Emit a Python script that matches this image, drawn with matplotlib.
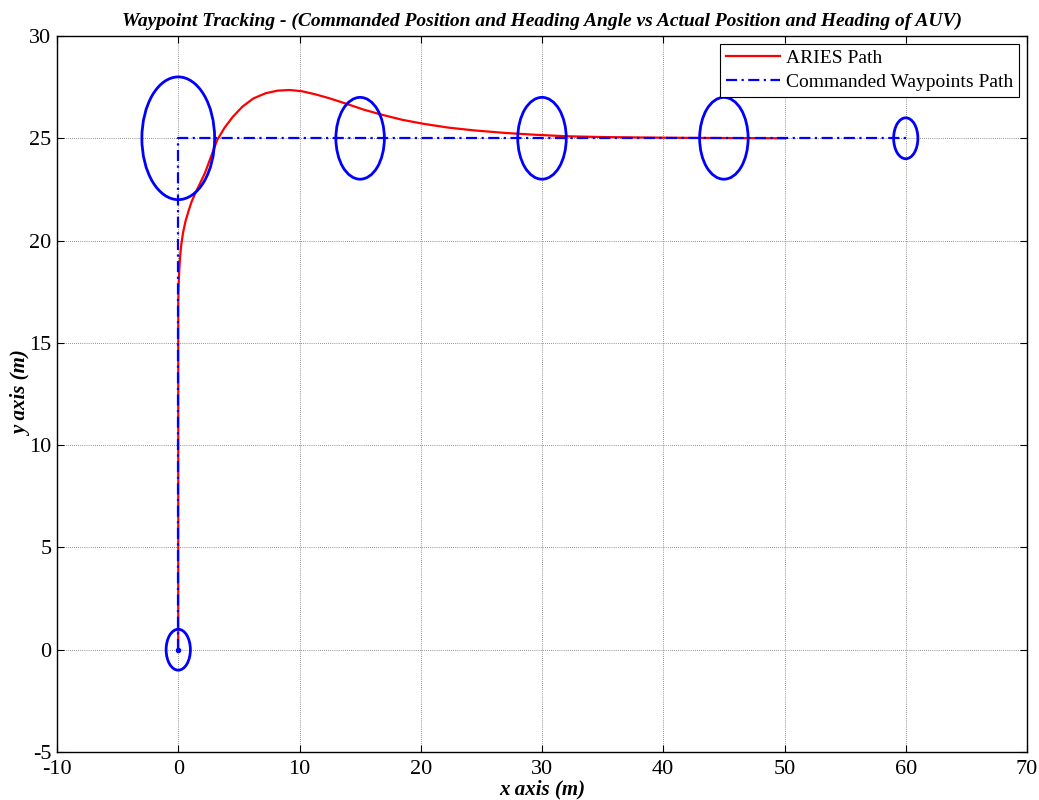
import matplotlib
matplotlib.use("Agg")
import matplotlib.pyplot as plt
from matplotlib.patches import Circle

# Waypoints (commanded) and acceptance radii
wp_x = [0, 0, 15, 30, 45, 60]
wp_y = [0, 25, 25, 25, 25, 25]
wp_r = [1, 3, 2, 2, 2, 1]

# Commanded waypoint path
cmd_x = [0, 0, 60]
cmd_y = [0, 25, 25]

# Actual ARIES path
path_x = [0, 0, 0, 0.03, 0.08, 0.15, 0.25, 0.4, 0.6, 0.85, 1.1, 1.4, 1.8, 2.2, 2.7, 3.2,
          3.8, 4.5, 5.3, 6.2, 7.2, 8.2, 9.2, 10.2, 11.3, 12.5, 13.8, 15.3, 16.8,
          18.5, 20.3, 22.3, 24.5, 27.0, 29.5, 32.0, 35.0, 38.0, 42.0, 46.0, 50.0]
path_y = [0, 10, 17, 17.8, 18.5, 19.2, 19.8, 20.4, 20.95, 21.45, 21.9, 22.3, 22.8, 23.3, 24.1, 24.9,
          25.5, 26.05, 26.55, 26.95, 27.2, 27.33, 27.36, 27.3, 27.15, 26.95, 26.7, 26.4, 26.15,
          25.9, 25.7, 25.52, 25.38, 25.26, 25.17, 25.1, 25.06, 25.04, 25.02, 25.01, 25.0]

x_ticks = [-10, 0, 10, 20, 30, 40, 50, 60, 70]
y_ticks = [-5, 0, 5, 10, 15, 20, 25, 30]

plt.rcParams['font.family'] = ['Liberation Serif', 'DejaVu Serif']
plt.rcParams['axes.unicode_minus'] = False

fig = plt.figure(figsize=(10.39, 8.0), dpi=100)
ax = fig.add_axes([57/1039, 48/800, (1027-57)/1039, (752-36)/800])

ax.plot(path_x, path_y, color='red', lw=1.6, label='ARIES Path', zorder=3)
ax.plot(cmd_x, cmd_y, color='blue', lw=1.6, ls=(0, (5, 2, 1, 2)),
        label='Commanded Waypoints Path', zorder=4)
for cx, cy, r in zip(wp_x, wp_y, wp_r):
    ax.add_patch(Circle((cx, cy), r, fill=False, edgecolor='blue', lw=2.0, zorder=5))
ax.plot([wp_x[0]], [wp_y[0]], 'o', color='blue', ms=3, zorder=6)

ax.set_xlim(-10, 70)
ax.set_ylim(-5, 30)
ax.set_xticks(x_ticks)
ax.set_yticks(y_ticks)
ax.tick_params(direction='in', top=True, right=True, labelsize=16, length=5, width=0.8)
ax.tick_params(axis='x', pad=6)
ax.tick_params(axis='y', pad=4)
ax.grid(True, color='black', ls=(0, (1, 2)), lw=0.5, alpha=0.8)
for s in ax.spines.values():
    s.set_linewidth(1.0)

ax.set_title('Waypoint Tracking - (Commanded Position and Heading Angle vs Actual Position and Heading of AUV)',
             fontsize=14, fontweight='bold', style='italic', pad=7)
ax.set_xlabel('x axis (m)', fontsize=15, fontweight='bold', style='italic', labelpad=0)
ax.set_ylabel('y axis (m)', fontsize=15, fontweight='bold', style='italic', labelpad=-2)

leg = ax.legend(loc='upper right', fontsize=14, fancybox=False, framealpha=1,
                edgecolor='black', borderpad=0.3, handlelength=2.8, labelspacing=0.3,
                borderaxespad=0.4, handletextpad=0.3)
leg.get_frame().set_linewidth(0.8)

fig.savefig('out.png', dpi=100)
